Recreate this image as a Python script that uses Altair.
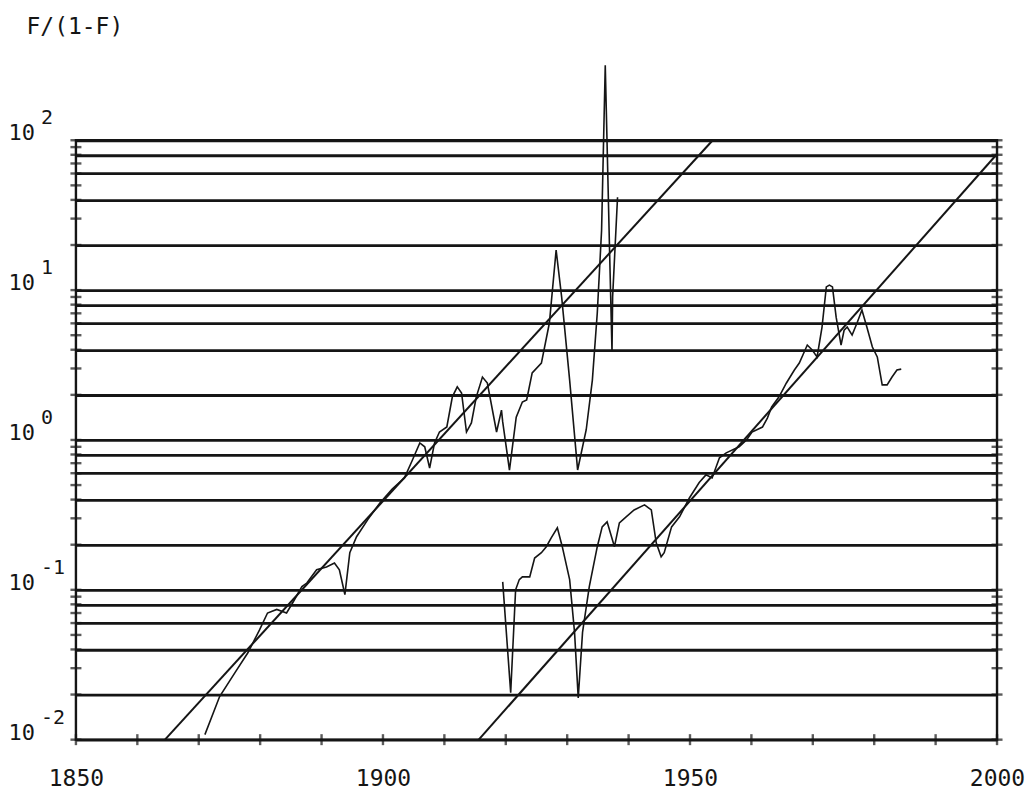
import altair as alt
import pandas as pd

FONT = "DejaVu Sans Mono"
INK = "#151515"

# ---- first (earlier) series ----
years1 = [1871.0, 1873.4, 1875.9, 1878.0, 1879.9,
          1881.2, 1882.7, 1884.3, 1885.3, 1886.8,
          1887.6, 1889.2, 1890.8, 1892.1, 1892.9,
          1893.8, 1894.6, 1895.7, 1897.5, 1899.5,
          1901.5, 1903.5, 1904.8, 1906.0, 1906.8,
          1907.6, 1908.4, 1909.2, 1910.4, 1911.3,
          1912.1, 1912.8, 1913.6, 1914.4, 1915.2,
          1916.2, 1917.0, 1918.5, 1919.3, 1919.5,
          1920.6, 1921.7, 1922.7, 1923.4, 1924.3,
          1925.8, 1927.1, 1928.2, 1929.1, 1930.4,
          1931.7, 1933.1, 1934.1, 1934.9, 1935.6,
          1936.2, 1936.9, 1937.3, 1937.4, 1938.2]
vals1 = [0.0108, 0.0194, 0.028, 0.038, 0.054,
         0.070, 0.074, 0.070, 0.082, 0.105,
         0.111, 0.136, 0.142, 0.151, 0.136,
         0.093, 0.177, 0.226, 0.293, 0.38,
         0.47, 0.558, 0.735, 0.955, 0.90,
         0.65, 0.955, 1.13, 1.22, 1.94,
         2.26, 2.06, 1.13, 1.30, 1.94,
         2.63, 2.40, 1.13, 1.58, 1.32,
         0.63, 1.42, 1.79, 1.85, 2.80,
         3.26, 6.03, 18.5, 8.98, 2.51,
         0.63, 1.17, 2.51, 7.03, 25.0,
         316.0, 18.5, 3.86, 9.0, 41.7]

# ---- second (later) series ----
years2 = [1919.5, 1920.8, 1921.6, 1922.2, 1922.7, 1923.9, 1924.7, 1925.8, 1926.6, 1927.4,
          1928.4, 1929.2, 1930.4, 1931.2, 1931.8, 1932.5, 1933.6, 1934.9, 1935.7, 1936.5,
          1937.7, 1938.5, 1939.6, 1940.9, 1942.6, 1943.7, 1944.5, 1945.3, 1945.8, 1947.0,
          1948.3, 1949.9, 1951.5, 1952.6, 1953.6, 1954.8, 1955.9, 1958.0, 1959.2, 1960.1,
          1961.8, 1962.6, 1963.3, 1964.5, 1965.7, 1967.0, 1967.8, 1969.1, 1969.9, 1970.7,
          1971.5, 1972.2, 1972.7, 1973.2, 1973.8, 1974.6, 1975.1, 1975.6, 1976.4, 1977.2,
          1978.0, 1978.8, 1979.7, 1980.5, 1981.3, 1982.1, 1982.9, 1983.7, 1984.4]
vals2 = [0.113, 0.0206, 0.10, 0.117, 0.122, 0.122, 0.163, 0.177, 0.194, 0.222,
         0.259, 0.194, 0.117, 0.052, 0.019, 0.052, 0.105, 0.194, 0.263, 0.284,
         0.194, 0.28, 0.307, 0.341, 0.369, 0.341, 0.206, 0.166, 0.177, 0.263,
         0.307, 0.41, 0.52, 0.585, 0.558, 0.76, 0.82, 0.90, 1.0, 1.13,
         1.22, 1.40, 1.66, 1.94, 2.40, 2.93, 3.26, 4.30, 3.98, 3.58,
         5.67, 10.5, 10.8, 10.5, 6.6, 4.30, 5.41, 5.67, 5.01, 6.03,
         7.36, 5.67, 4.17, 3.58, 2.33, 2.33, 2.63, 2.93, 2.97]

# ---- fitted straight lines (Fisher-Pry) ----
fit1_years = [1864.5, 1953.7]
fit1_vals = [0.01, 100.0]
fit2_years = [1915.6, 2000.0]
fit2_vals = [0.01, 81.0]

# ---- axes / ticks ----
x_label_years = [1850, 1900, 1950, 2000]
x_tick_years = [1850, 1860, 1870, 1880, 1890, 1900, 1910, 1920, 1930, 1940,
                1950, 1960, 1970, 1980, 1990, 2000]
grid_vals = [0.01, 0.02, 0.04, 0.06, 0.08, 0.1, 0.2, 0.4, 0.6, 0.8,
             1, 2, 4, 6, 8, 10, 20, 40, 60, 80, 100]
mantissas = [1, 2, 3, 4, 5, 6, 7, 8, 9]
decades = [0.01, 0.1, 1, 10]
minor_vals = [m * d for d in decades for m in mantissas] + [100]
label_vals = [100, 10, 1, 0.1, 0.01]
label_exps = ["2", "1", "0", "-1", "-2"]

df_curves = pd.DataFrame({
    "year": years1 + years2,
    "value": vals1 + vals2,
    "series": ["A"] * len(years1) + ["B"] * len(years2),
    "idx": list(range(len(years1))) + list(range(len(years2))),
})
df_fit = pd.DataFrame({
    "year": fit1_years + fit2_years,
    "value": fit1_vals + fit2_vals,
    "series": ["A", "A", "B", "B"],
})
df_minor = pd.DataFrame([{"year": s, "value": v} for s in [1850, 2000] for v in minor_vals])
df_xt = pd.DataFrame({"year": x_tick_years, "value": [0.01] * len(x_tick_years)})
df_lab = pd.DataFrame({"value": label_vals, "base": ["10"] * len(label_vals), "exp": label_exps})

X = alt.X("year:Q",
          scale=alt.Scale(domain=[1850, 2000], nice=False, zero=False),
          axis=alt.Axis(values=x_label_years, format="d", grid=False, ticks=False, tickSize=0,
                        domain=False, labelFont=FONT, labelFontSize=23, labelColor=INK,
                        labelPadding=28, labelFlush=False, title=None))
Y = alt.Y("value:Q",
          scale=alt.Scale(type="log", domain=[0.01, 100], nice=False),
          axis=alt.Axis(values=grid_vals, grid=True, gridColor=INK, gridWidth=2.8,
                        gridOpacity=1, ticks=False, labels=False, domain=False,
                        title="F/(1-F)", titleAngle=0, titleAlign="left",
                        titleBaseline="alphabetic", titleX=-50, titleY=-107,
                        titleFont=FONT, titleFontSize=23, titleFontWeight="normal",
                        titleColor=INK))

curves = alt.Chart(df_curves).mark_line(color=INK, strokeWidth=1.6).encode(
    x=X, y=Y, detail="series:N", order="idx:Q")

fits = alt.Chart(df_fit).mark_line(color=INK, strokeWidth=2.0).encode(
    x="year:Q", y="value:Q", detail="series:N")

yticks = alt.Chart(df_minor).mark_tick(orient="horizontal", size=11, thickness=2.4, color=INK).encode(
    x="year:Q", y="value:Q")

xticks = alt.Chart(df_xt).mark_tick(orient="vertical", size=11, thickness=2.4, color=INK).encode(
    x="year:Q", y="value:Q")

base_text = alt.Chart(df_lab).mark_text(align="right", baseline="middle", dy=-7, font=FONT,
                                        fontSize=22, color=INK).encode(
    y="value:Q", x=alt.value(-41), text="base:N")

exp_text = alt.Chart(df_lab).mark_text(align="left", baseline="middle", dy=-22, font=FONT,
                                       fontSize=20, color=INK).encode(
    y="value:Q", x=alt.value(-35), text="exp:N")

chart = alt.layer(curves, fits, yticks, xticks, base_text, exp_text).properties(
    width=922, height=600,
    autosize=alt.AutoSizeParams(type="none"),
    padding={"left": 68, "top": 132, "right": 30, "bottom": 50},
    background="white",
).configure_view(stroke=INK, strokeWidth=2.4)

chart.save("out.html", embed_options={"renderer": "svg", "actions": False})
